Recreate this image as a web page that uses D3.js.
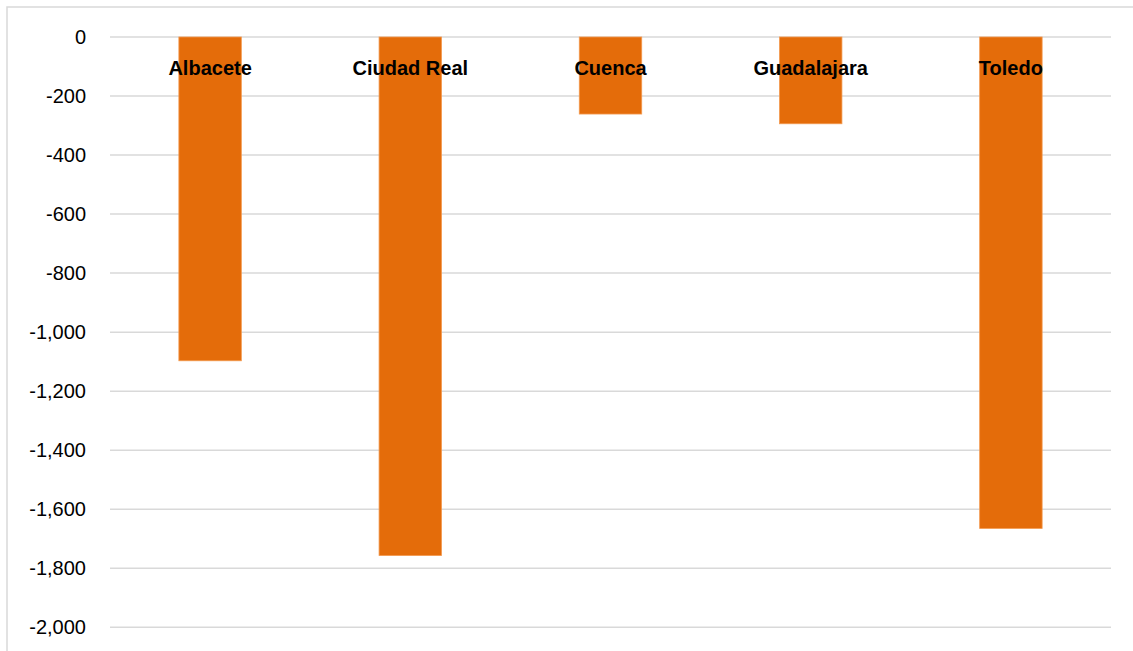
<!DOCTYPE html>
<html><head><meta charset="utf-8">
<script src="https://cdn.jsdelivr.net/npm/d3@7"></script>
<style>
html,body{margin:0;padding:0;background:#fff;}
svg{display:block;}
</style></head>
<body>
<svg id="chart" width="1133" height="651"></svg>
<script>
const categories = ["Albacete", "Ciudad Real", "Cuenca", "Guadalajara", "Toledo"];
const values = [-1097, -1757, -261, -294, -1665];
const yTicks = [0, -200, -400, -600, -800, -1000, -1200, -1400, -1600, -1800, -2000];

const W = 1133, H = 651;
const m = {left: 110, right: 22, top: 37, bottom: 24};
const svg = d3.select("#chart");
const font = "'Liberation Sans', Arial, sans-serif";

// chart frame
svg.append("rect").attr("x", 7).attr("y", 7).attr("width", W + 10).attr("height", H + 10)
  .attr("fill", "#fff").attr("stroke", "#d9d9d9").attr("stroke-width", 1.5);

const x = d3.scaleBand().domain(categories).range([m.left, W - m.right])
  .paddingInner(0.688).paddingOuter(0.344);
const y = d3.scaleLinear().domain([-2000, 0]).range([627.3, 37]);

// gridlines
svg.append("g").selectAll("line").data(yTicks).join("line")
  .attr("x1", m.left).attr("x2", W - m.right)
  .attr("y1", d => y(d)).attr("y2", d => y(d))
  .attr("stroke", "#d9d9d9").attr("stroke-width", 1.5);

// y axis
const fmt = d3.format(",");
const yAxis = svg.append("g").attr("transform", `translate(${m.left},0)`)
  .call(d3.axisLeft(y).tickValues(yTicks).tickSize(0).tickPadding(24)
    .tickFormat(d => fmt(d).replace("\u2212", "-")));
yAxis.select(".domain").remove();
yAxis.selectAll("text").attr("font-family", font).attr("font-size", 20).attr("fill", "#000");

// bars
svg.append("g").selectAll("rect").data(categories).join("rect")
  .attr("x", d => x(d))
  .attr("width", x.bandwidth())
  .attr("y", (d, i) => y(Math.max(0, values[i])))
  .attr("height", (d, i) => Math.abs(y(values[i]) - y(0)))
  .attr("fill", "#e46c0a")
  .attr("stroke", "#f39a50").attr("stroke-width", 0.8);

// category labels at zero line
const xAxis = svg.append("g").attr("transform", `translate(0,${y(0)})`)
  .call(d3.axisBottom(x).tickSize(0).tickPadding(24));
xAxis.select(".domain").remove();
xAxis.selectAll("text").attr("font-family", font).attr("font-size", 20)
  .attr("font-weight", "bold").attr("fill", "#000");
</script>
</body></html>
